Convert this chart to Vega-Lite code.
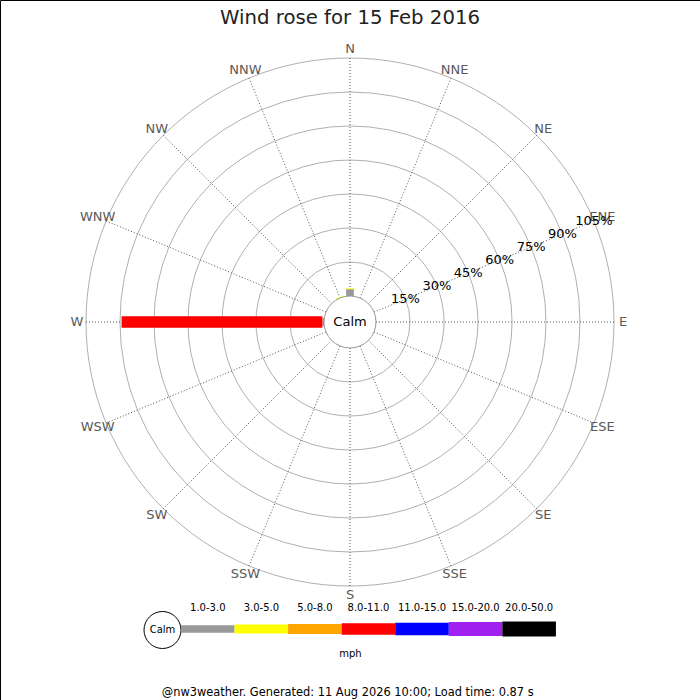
{
  "$schema": "https://vega.github.io/schema/vega-lite/v6.json",
  "width": 700,
  "height": 700,
  "autosize": {"type": "none"},
  "padding": 0,
  "background": "white",
  "view": {"stroke": "black", "strokeWidth": 1},
  "title": {
    "text": "Wind rose for 15 Feb 2016",
    "font": "DejaVu Sans",
    "fontSize": 19.7,
    "fontWeight": "normal",
    "color": "#222222",
    "anchor": "middle",
    "frame": "group",
    "baseline": "alphabetic",
    "offset": -44
  },
  "config": {"font": "DejaVu Sans", "axis": {"disable": true}},
  "datasets": {
    "dirs": [
      {"dir": "N"}, {"dir": "NNE"}, {"dir": "NE"}, {"dir": "ENE"},
      {"dir": "E"}, {"dir": "ESE"}, {"dir": "SE"}, {"dir": "SSE"},
      {"dir": "S"}, {"dir": "SSW"}, {"dir": "SW"}, {"dir": "WSW"},
      {"dir": "W"}, {"dir": "WNW"}, {"dir": "NW"}, {"dir": "NNW"}
    ],
    "rings": [
      {"pct": 15}, {"pct": 30}, {"pct": 45}, {"pct": 60},
      {"pct": 75}, {"pct": 90}, {"pct": 105}
    ],
    "wind": [
      {"dir": "W", "band": "1.0-3.0", "pct": 0.7},
      {"dir": "W", "band": "8.0-11.0", "pct": 88.6},
      {"dir": "N", "band": "1.0-3.0", "pct": 3.0},
      {"dir": "N", "band": "3.0-5.0", "pct": 0.4},
      {"dir": "NNW", "band": "3.0-5.0", "pct": 0.4}
    ],
    "bands": [
      {"band": "1.0-3.0"}, {"band": "3.0-5.0"}, {"band": "5.0-8.0"},
      {"band": "8.0-11.0"}, {"band": "11.0-15.0"}, {"band": "15.0-20.0"},
      {"band": "20.0-50.0"}
    ]
  },
  "layer": [
    {
      "data": {"name": "rings"},
      "transform": [{"calculate": "datum.pct + 11.47", "as": "r"}],
      "mark": {"type": "arc", "filled": false, "stroke": "#b0b0b0", "strokeWidth": 1},
      "encoding": {
        "x": {"datum": 0, "type": "quantitative",
              "scale": {"domain": [-154.41, 154.41], "nice": false, "zero": false}},
        "y": {"datum": 0, "type": "quantitative",
              "scale": {"domain": [-166.76, 142.06], "nice": false, "zero": false}},
        "radius": {"field": "r", "type": "quantitative", "stack": null,
                   "scale": {"type": "linear", "domain": [0, 154.41], "zero": true}}
      }
    },
    {
      "data": {"name": "dirs"},
      "transform": [
        {"calculate": "indexof(['N','NNE','NE','ENE','E','ESE','SE','SSE','S','SSW','SW','WSW','W','WNW','NW','NNW'], datum.dir) * PI / 8", "as": "a"},
        {"calculate": "11.47 * sin(datum.a)", "as": "x0"},
        {"calculate": "11.47 * cos(datum.a)", "as": "y0"},
        {"calculate": "116.47 * sin(datum.a)", "as": "x1"},
        {"calculate": "116.47 * cos(datum.a)", "as": "y1"}
      ],
      "mark": {"type": "rule", "color": "#555555", "strokeWidth": 1, "strokeDash": [1, 2]},
      "encoding": {
        "x": {"field": "x0", "type": "quantitative"},
        "y": {"field": "y0", "type": "quantitative"},
        "x2": {"field": "x1"},
        "y2": {"field": "y1"}
      }
    },
    {
      "data": {"name": "wind"},
      "transform": [
        {"calculate": "indexof(['1.0-3.0','3.0-5.0','5.0-8.0','8.0-11.0','11.0-15.0','15.0-20.0','20.0-50.0'], datum.band)", "as": "bi"},
        {"stack": "pct", "groupby": ["dir"], "sort": [{"field": "bi"}], "as": ["p0", "p1"]},
        {"calculate": "indexof(['N','NNE','NE','ENE','E','ESE','SE','SSE','S','SSW','SW','WSW','W','WNW','NW','NNW'], datum.dir) * PI / 8", "as": "a"},
        {"calculate": "(11.47 + datum.p0) * sin(datum.a)", "as": "x0"},
        {"calculate": "(11.47 + datum.p0) * cos(datum.a)", "as": "y0"},
        {"calculate": "(11.47 + datum.p1) * sin(datum.a)", "as": "x1"},
        {"calculate": "(11.47 + datum.p1) * cos(datum.a)", "as": "y1"}
      ],
      "mark": {"type": "rule", "strokeCap": "butt"},
      "encoding": {
        "x": {"field": "x0", "type": "quantitative"},
        "y": {"field": "y0", "type": "quantitative"},
        "x2": {"field": "x1"},
        "y2": {"field": "y1"},
        "color": {"field": "band", "type": "nominal", "legend": null,
                  "scale": {"domain": ["1.0-3.0","3.0-5.0","5.0-8.0","8.0-11.0","11.0-15.0","15.0-20.0","20.0-50.0"],
                            "range": ["#999999","#ffff00","#ffa500","#ff0000","#0000ff","#a020f0","#000000"]}},
        "strokeWidth": {"field": "band", "type": "ordinal", "legend": null,
                        "scale": {"domain": ["1.0-3.0","3.0-5.0","5.0-8.0","8.0-11.0","11.0-15.0","15.0-20.0","20.0-50.0"],
                                  "range": [7.7, 15, 20.3, 23, 25, 27, 28.3]}}
      }
    },
    {
      "data": {"values": [{"label": "Calm"}]},
      "mark": {"type": "arc", "fill": "white", "stroke": "#999999", "strokeWidth": 1},
      "encoding": {
        "x": {"datum": 0, "type": "quantitative"},
        "y": {"datum": 0, "type": "quantitative"},
        "radius": {"datum": 11.47, "type": "quantitative", "stack": null}
      }
    },
    {
      "data": {"values": [{"label": "Calm"}]},
      "mark": {"type": "text", "fontSize": 13, "color": "black", "align": "center", "baseline": "middle"},
      "encoding": {
        "x": {"datum": 0, "type": "quantitative"},
        "y": {"datum": 0, "type": "quantitative"},
        "text": {"field": "label"}
      }
    },
    {
      "data": {"name": "dirs"},
      "transform": [
        {"calculate": "indexof(['N','NNE','NE','ENE','E','ESE','SE','SSE','S','SSW','SW','WSW','W','WNW','NW','NNW'], datum.dir) * PI / 8", "as": "a"},
        {"calculate": "120.5 * sin(datum.a)", "as": "lx"},
        {"calculate": "120.5 * cos(datum.a)", "as": "ly"}
      ],
      "mark": {"type": "text", "fontSize": 13, "color": "#5a5a5a", "align": "center", "baseline": "middle"},
      "encoding": {
        "x": {"field": "lx", "type": "quantitative"},
        "y": {"field": "ly", "type": "quantitative"},
        "text": {"field": "dir"}
      }
    },
    {
      "data": {"name": "rings"},
      "transform": [
        {"calculate": "(datum.pct + 11.47) * sin(3 * PI / 8)", "as": "lx"},
        {"calculate": "(datum.pct + 11.47) * cos(3 * PI / 8)", "as": "ly"},
        {"calculate": "datum.pct + '%'", "as": "label"}
      ],
      "mark": {"type": "text", "fontSize": 13, "color": "black", "align": "center", "baseline": "middle"},
      "encoding": {
        "x": {"field": "lx", "type": "quantitative"},
        "y": {"field": "ly", "type": "quantitative"},
        "text": {"field": "label"}
      }
    },
    {
      "data": {"values": [{"label": "Calm"}]},
      "mark": {"type": "arc", "fill": "white", "stroke": "black", "strokeWidth": 1},
      "encoding": {
        "x": {"datum": -82.72, "type": "quantitative"},
        "y": {"datum": -135.88, "type": "quantitative"},
        "radius": {"datum": 8.16, "type": "quantitative", "stack": null}
      }
    },
    {
      "data": {"values": [{"label": "Calm"}]},
      "mark": {"type": "text", "fontSize": 10, "color": "black", "align": "center", "baseline": "middle"},
      "encoding": {
        "x": {"datum": -82.72, "type": "quantitative"},
        "y": {"datum": -135.88, "type": "quantitative"},
        "text": {"field": "label"}
      }
    },
    {
      "data": {"name": "bands"},
      "transform": [
        {"calculate": "indexof(['1.0-3.0','3.0-5.0','5.0-8.0','8.0-11.0','11.0-15.0','15.0-20.0','20.0-50.0'], datum.band)", "as": "bi"},
        {"calculate": "-74.56 + 23.63 * datum.bi", "as": "lx0"},
        {"calculate": "datum.lx0 + 23.63", "as": "lx1"}
      ],
      "mark": {"type": "rule", "strokeCap": "butt"},
      "encoding": {
        "x": {"field": "lx0", "type": "quantitative"},
        "x2": {"field": "lx1"},
        "y": {"datum": -135.44, "type": "quantitative"},
        "color": {"field": "band", "type": "nominal", "legend": null},
        "strokeWidth": {"field": "band", "type": "ordinal", "legend": null}
      }
    },
    {
      "data": {"name": "bands"},
      "transform": [
        {"calculate": "indexof(['1.0-3.0','3.0-5.0','5.0-8.0','8.0-11.0','11.0-15.0','15.0-20.0','20.0-50.0'], datum.band)", "as": "bi"},
        {"calculate": "-74.56 + 23.63 * datum.bi + 11.815", "as": "lxm"}
      ],
      "mark": {"type": "text", "fontSize": 10, "color": "black", "align": "center", "baseline": "middle"},
      "encoding": {
        "x": {"field": "lxm", "type": "quantitative"},
        "y": {"datum": -126.1, "type": "quantitative"},
        "text": {"field": "band"}
      }
    },
    {
      "data": {"values": [{"label": "mph"}]},
      "mark": {"type": "text", "fontSize": 10, "color": "black", "align": "center", "baseline": "middle"},
      "encoding": {
        "x": {"datum": 0.2, "type": "quantitative"},
        "y": {"datum": -146.25, "type": "quantitative"},
        "text": {"field": "label"}
      }
    },
    {
      "data": {"values": [{"label": "@nw3weather. Generated: 11 Aug 2026 10:00; Load time: 0.87 s"}]},
      "mark": {"type": "text", "fontSize": 11.4, "color": "black", "align": "center", "baseline": "middle"},
      "encoding": {
        "x": {"datum": -1, "type": "quantitative"},
        "y": {"datum": -163.68, "type": "quantitative"},
        "text": {"field": "label"}
      }
    }
  ]
}
